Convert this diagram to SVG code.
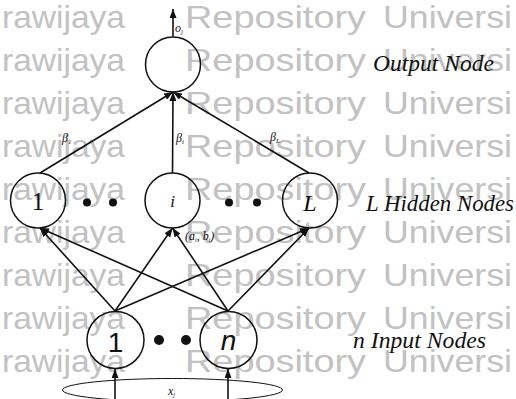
<svg xmlns="http://www.w3.org/2000/svg" width="516" height="399" viewBox="0 0 516 399">
<style>
.wm{font-family:"Liberation Sans",Arial,sans-serif;font-size:32px;fill:#c2c2c2}
.ln{stroke:#111;stroke-width:1.6;fill:none}
.nd{stroke:#111;stroke-width:1.5;fill:none}
.cap{font-family:"Liberation Serif","Times New Roman",serif;font-style:italic;font-size:23px;fill:#111}
.lbl{font-family:"Liberation Serif","Times New Roman",serif;fill:#111;text-anchor:middle}
.big{font-family:"Liberation Sans",Arial,sans-serif;font-size:28px;fill:#111;text-anchor:middle}
.sm{font-family:"Liberation Serif","Times New Roman",serif;font-style:italic;font-size:12px;fill:#111}
.dot{fill:#111}
</style>
<defs>
<marker id="ah" markerUnits="userSpaceOnUse" markerWidth="9" markerHeight="7" refX="9" refY="3.5" orient="auto">
<path d="M0,0 L9,3.5 L0,7 z" fill="#111"/>
</marker>
</defs>
<rect width="516" height="399" fill="#fff"/>
<g id="watermark" lengthAdjust="spacingAndGlyphs">
<text class="wm" x="2" y="28" textLength="123" lengthAdjust="spacingAndGlyphs">rawijaya</text><text class="wm" x="185" y="28" textLength="181" lengthAdjust="spacingAndGlyphs">Repository</text><text class="wm" x="383" y="28" textLength="129" lengthAdjust="spacingAndGlyphs">Universi</text>
<text class="wm" x="2" y="71" textLength="123" lengthAdjust="spacingAndGlyphs">rawijaya</text><text class="wm" x="185" y="71" textLength="181" lengthAdjust="spacingAndGlyphs">Repository</text><text class="wm" x="383" y="71" textLength="129" lengthAdjust="spacingAndGlyphs">Universi</text>
<text class="wm" x="2" y="114" textLength="123" lengthAdjust="spacingAndGlyphs">rawijaya</text><text class="wm" x="185" y="114" textLength="181" lengthAdjust="spacingAndGlyphs">Repository</text><text class="wm" x="383" y="114" textLength="129" lengthAdjust="spacingAndGlyphs">Universi</text>
<text class="wm" x="2" y="157" textLength="123" lengthAdjust="spacingAndGlyphs">rawijaya</text><text class="wm" x="185" y="157" textLength="181" lengthAdjust="spacingAndGlyphs">Repository</text><text class="wm" x="383" y="157" textLength="129" lengthAdjust="spacingAndGlyphs">Universi</text>
<text class="wm" x="2" y="200" textLength="123" lengthAdjust="spacingAndGlyphs">rawijaya</text><text class="wm" x="185" y="200" textLength="181" lengthAdjust="spacingAndGlyphs">Repository</text><text class="wm" x="383" y="200" textLength="129" lengthAdjust="spacingAndGlyphs">Universi</text>
<text class="wm" x="2" y="243" textLength="123" lengthAdjust="spacingAndGlyphs">rawijaya</text><text class="wm" x="185" y="243" textLength="181" lengthAdjust="spacingAndGlyphs">Repository</text><text class="wm" x="383" y="243" textLength="129" lengthAdjust="spacingAndGlyphs">Universi</text>
<text class="wm" x="2" y="286" textLength="123" lengthAdjust="spacingAndGlyphs">rawijaya</text><text class="wm" x="185" y="286" textLength="181" lengthAdjust="spacingAndGlyphs">Repository</text><text class="wm" x="383" y="286" textLength="129" lengthAdjust="spacingAndGlyphs">Universi</text>
<text class="wm" x="2" y="329" textLength="123" lengthAdjust="spacingAndGlyphs">rawijaya</text><text class="wm" x="185" y="329" textLength="181" lengthAdjust="spacingAndGlyphs">Repository</text><text class="wm" x="383" y="329" textLength="129" lengthAdjust="spacingAndGlyphs">Universi</text>
<text class="wm" x="2" y="372" textLength="123" lengthAdjust="spacingAndGlyphs">rawijaya</text><text class="wm" x="185" y="372" textLength="181" lengthAdjust="spacingAndGlyphs">Repository</text><text class="wm" x="383" y="372" textLength="129" lengthAdjust="spacingAndGlyphs">Universi</text>
</g>
<g id="connectors">
<line class="ln" x1="173" y1="36.5" x2="173" y2="9" marker-end="url(#ah)"/>
<line class="ln" x1="40" y1="173" x2="173" y2="92" marker-end="url(#ah)"/>
<line class="ln" x1="172.5" y1="173" x2="173" y2="92" marker-end="url(#ah)"/>
<line class="ln" x1="309" y1="173" x2="173" y2="92" marker-end="url(#ah)"/>
<line class="ln" x1="115" y1="311" x2="40" y2="228" marker-end="url(#ah)"/>
<line class="ln" x1="115" y1="311" x2="172.5" y2="228" marker-end="url(#ah)"/>
<line class="ln" x1="115" y1="311" x2="309" y2="228" marker-end="url(#ah)"/>
<line class="ln" x1="228" y1="311" x2="40" y2="228" marker-end="url(#ah)"/>
<line class="ln" x1="228" y1="311" x2="172.5" y2="228" marker-end="url(#ah)"/>
<line class="ln" x1="228" y1="311" x2="309" y2="228" marker-end="url(#ah)"/>
<line class="ln" x1="115" y1="402" x2="115" y2="369" marker-end="url(#ah)"/>
<line class="ln" x1="228" y1="402" x2="228" y2="369" marker-end="url(#ah)"/>
<text class="sm" x="175" y="32">o<tspan font-size="7" dy="2">j</tspan></text>
<text class="sm" x="62" y="142">β<tspan font-size="7" dy="2">1</tspan></text>
<text class="sm" x="176" y="142">β<tspan font-size="7" dy="2">i</tspan></text>
<text class="sm" x="270" y="141">β<tspan font-size="7" dy="2">L</tspan></text>
<text class="sm" x="185" y="240" font-size="10" font-style="normal">(a<tspan font-size="6" dy="2">i</tspan><tspan dy="-2">, b</tspan><tspan font-size="6" dy="2">i</tspan><tspan dy="-2">)</tspan></text>
</g>
<g id="output-node">
<circle class="nd" cx="173" cy="64.5" r="27.5"/>
<text class="cap" x="373" y="71" textLength="121" lengthAdjust="spacingAndGlyphs">Output Node</text>
</g>
<g id="hidden-1">
<circle class="nd" cx="38" cy="200.5" r="27.5"/>
<text class="lbl" x="38" y="210" font-size="25">1</text>
</g>
<g id="hidden-i">
<circle class="nd" cx="172.5" cy="200.5" r="27.5"/>
<text class="lbl" x="172.5" y="207" font-size="17" font-style="italic">i</text>
</g>
<g id="hidden-L">
<circle class="nd" cx="310" cy="200.5" r="27.5"/>
<text class="lbl" x="310" y="211" font-size="24" font-style="italic">L</text>
</g>
<g id="hidden-dots">
<circle class="dot" cx="87" cy="202.5" r="4"/>
<circle class="dot" cx="113" cy="202.5" r="4"/>
<circle class="dot" cx="229" cy="202.5" r="4"/>
<circle class="dot" cx="257" cy="202.5" r="4"/>
<text class="cap" x="366" y="211" textLength="148" lengthAdjust="spacingAndGlyphs">L Hidden Nodes</text>
</g>
<g id="input-1">
<circle class="nd" cx="115.5" cy="340" r="28.5"/>
<text class="big" x="115.5" y="352">1</text>
</g>
<g id="input-n">
<circle class="nd" cx="228.5" cy="340" r="28.5"/>
<text class="big" x="228.5" y="350" font-style="italic">n</text>
</g>
<g id="input-dots">
<circle class="dot" cx="159" cy="340" r="5"/>
<circle class="dot" cx="186" cy="340" r="5"/>
<text class="cap" x="353" y="348" textLength="133" lengthAdjust="spacingAndGlyphs">n Input Nodes</text>
</g>
<g id="input-vector">
<ellipse cx="172.5" cy="390" rx="110" ry="11.5" fill="none" stroke="#111" stroke-width="1"/>
<text class="sm" x="168" y="395" font-size="9" font-style="normal">x<tspan font-size="6" dy="2">j</tspan></text>
</g>
</svg>
